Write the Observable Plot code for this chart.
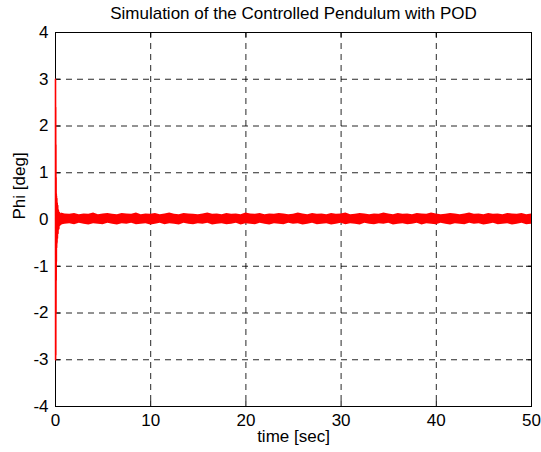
<!DOCTYPE html>
<html><head><meta charset="utf-8">
<script src="https://cdn.jsdelivr.net/npm/d3@7"></script>
<script src="https://cdn.jsdelivr.net/npm/@observablehq/plot@0.6"></script>
<style>body{margin:0;background:#fff}</style>
</head><body><div id="chart"></div>
<script>
const titleText = "Simulation of the Controlled Pendulum with POD";
const xLabel = "time [sec]";
const yLabel = "Phi [deg]";
const xTicks = [0, 10, 20, 30, 40, 50];
const yTicks = [-4, -3, -2, -1, 0, 1, 2, 3, 4];

// initial transient
const transientT = [0,0.01,0.02,0.03,0.04,0.05,0.06,0.07,0.08,0.09,0.1,0.12,0.14,0.16,0.18,0.2,0.23,0.26,0.3,0.35,0.4,0.45,0.5,0.55,0.6];
const transientPhi = [3.0,-3.0,2.4,-2.9,1.6,-2.0,0.9,-1.3,0.55,-0.9,0.5,-0.6,0.45,-0.5,0.35,-0.4,0.3,-0.3,0.2,-0.2,0.15,-0.12,0.12,-0.1,0.1];

// envelope of the residual noise band
const bandT = [0.6,1,1.5,2,2.5,3,3.5,4,4.5,5,5.5,6,6.5,7,7.5,8,8.5,9,9.5,10,10.5,11,11.5,12,12.5,13,13.5,14,14.5,15,15.5,16,16.5,17,17.5,18,18.5,19,19.5,20,20.5,21,21.5,22,22.5,23,23.5,24,24.5,25,25.5,26,26.5,27,27.5,28,28.5,29,29.5,30,30.5,31,31.5,32,32.5,33,33.5,34,34.5,35,35.5,36,36.5,37,37.5,38,38.5,39,39.5,40,40.5,41,41.5,42,42.5,43,43.5,44,44.5,45,45.5,46,46.5,47,47.5,48,48.5,49,49.5,50];
const bandUpper = [0.14,0.12,0.11,0.13,0.10,0.12,0.11,0.14,0.10,0.12,0.13,0.11,0.10,0.13,0.12,0.11,0.14,0.10,0.12,0.11,0.13,0.10,0.12,0.14,0.11,0.10,0.13,0.12,0.11,0.10,0.12,0.14,0.11,0.12,0.10,0.13,0.11,0.12,0.10,0.14,0.12,0.11,0.13,0.10,0.12,0.11,0.13,0.12,0.10,0.11,0.14,0.12,0.10,0.13,0.11,0.12,0.10,0.13,0.11,0.12,0.14,0.10,0.11,0.13,0.12,0.10,0.12,0.11,0.14,0.12,0.10,0.13,0.11,0.12,0.10,0.13,0.12,0.11,0.14,0.12,0.10,0.11,0.13,0.12,0.10,0.12,0.14,0.11,0.12,0.10,0.13,0.11,0.12,0.10,0.13,0.12,0.11,0.13,0.10,0.12];
const bandLower = [-0.12,-0.10,-0.09,-0.11,-0.08,-0.10,-0.12,-0.09,-0.10,-0.11,-0.08,-0.10,-0.12,-0.09,-0.10,-0.08,-0.11,-0.10,-0.09,-0.12,-0.10,-0.08,-0.11,-0.09,-0.10,-0.12,-0.08,-0.10,-0.11,-0.09,-0.10,-0.08,-0.12,-0.10,-0.09,-0.11,-0.10,-0.08,-0.12,-0.09,-0.10,-0.11,-0.08,-0.10,-0.12,-0.09,-0.10,-0.11,-0.08,-0.10,-0.09,-0.12,-0.10,-0.08,-0.11,-0.10,-0.09,-0.12,-0.10,-0.08,-0.11,-0.09,-0.10,-0.12,-0.08,-0.10,-0.11,-0.09,-0.10,-0.08,-0.12,-0.10,-0.09,-0.11,-0.10,-0.08,-0.12,-0.09,-0.10,-0.11,-0.08,-0.10,-0.12,-0.09,-0.10,-0.11,-0.08,-0.10,-0.09,-0.12,-0.10,-0.08,-0.11,-0.10,-0.09,-0.12,-0.10,-0.08,-0.11,-0.10];

const transient = transientT.map((t, i) => ({t, phi: transientPhi[i]}));
const band = bandT.map((t, i) => ({t, hi: bandUpper[i], lo: bandLower[i]}));

const W = 541, H = 452, ML = 55, MR = 10, MT = 32, MB = 46;
const plotW = W - ML - MR, plotH = H - MT - MB, tick = 5;
const fmt = d => String(d);

const chart = Plot.plot({
  width: W, height: H,
  marginLeft: ML, marginRight: MR, marginTop: MT, marginBottom: MB,
  style: {fontFamily: "Liberation Sans, Arial, sans-serif", fontSize: "17px", color: "#000", background: "#fff", overflow: "visible"},
  x: {domain: [0, 50], ticks: xTicks, label: null},
  y: {domain: [-4, 4], ticks: yTicks, label: null},
  marks: [
    Plot.gridX(xTicks, {stroke: "#000", strokeOpacity: 0.85, strokeDasharray: "6,5"}),
    Plot.gridY(yTicks, {stroke: "#000", strokeOpacity: 0.85, strokeDasharray: "6,5"}),
    Plot.frame({stroke: "#000", strokeWidth: 1}),
    Plot.tickX(xTicks, {x: d => d, stroke: "#000", insetTop: plotH - tick}),
    Plot.tickX(xTicks, {x: d => d, stroke: "#000", insetBottom: plotH - tick}),
    Plot.tickY(yTicks, {y: d => d, stroke: "#000", insetRight: plotW - tick}),
    Plot.tickY(yTicks, {y: d => d, stroke: "#000", insetLeft: plotW - tick}),
    Plot.axisX(xTicks, {anchor: "bottom", tickSize: 0, tickPadding: 7, fontSize: 17, tickFormat: fmt, label: null}),
    Plot.axisY(yTicks, {anchor: "left", tickSize: 0, tickPadding: 7, fontSize: 17, tickFormat: fmt, label: null}),
    Plot.areaY(band, {x: "t", y1: "lo", y2: "hi", fill: "#ff0000", curve: "linear"}),
    Plot.line(transient, {x: "t", y: "phi", stroke: "#ff0000", strokeWidth: 1.6}),
    Plot.text([titleText], {frameAnchor: "top", dy: -26, fontSize: 17}),
    Plot.text([xLabel], {frameAnchor: "bottom", dy: 35, fontSize: 17}),
    Plot.text([yLabel], {frameAnchor: "left", dx: -36, rotate: -90, fontSize: 17})
  ]
});
document.getElementById("chart").appendChild(chart);
</script></body></html>
